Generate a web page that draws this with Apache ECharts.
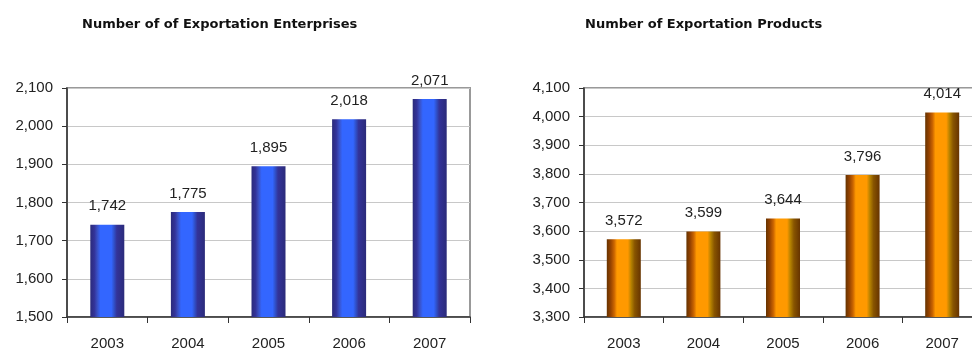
<!DOCTYPE html>
<html><head><meta charset="utf-8">
<script src="https://cdn.jsdelivr.net/npm/echarts@6/dist/echarts.min.js"></script>
<style>html,body{margin:0;padding:0;background:#fff}#c{width:972px;height:350px}</style>
</head><body><div id="c"></div>
<script>
const categories = ['2003','2004','2005','2006','2007'];
const enterprises = [1742, 1775, 1895, 2018, 2071];
const products = [3572, 3599, 3644, 3796, 4014];
const titleLeft = 'Number of of Exportation Enterprises';
const titleRight = 'Number of Exportation Products';

const chart = echarts.init(document.getElementById('c'));
const fmt = v => v.toLocaleString('en-US');
const blueGrad = new echarts.graphic.LinearGradient(0,0,1,0,[
  {offset:0,color:'#2b2b7a'},{offset:0.12,color:'#333399'},{offset:0.2,color:'#3a4fc0'},
  {offset:0.3,color:'#3366ff'},{offset:0.62,color:'#3366ff'},{offset:0.7,color:'#3050c8'},
  {offset:0.78,color:'#333399'},{offset:1,color:'#2b2b7a'}]);
const orangeGrad = new echarts.graphic.LinearGradient(0,0,1,0,[
  {offset:0,color:'#663300'},{offset:0.12,color:'#994400'},{offset:0.22,color:'#cc6600'},
  {offset:0.3,color:'#ff9900'},{offset:0.62,color:'#ff9900'},{offset:0.72,color:'#b38000'},
  {offset:0.82,color:'#885500'},{offset:1,color:'#663300'}]);
const FONT = "'Liberation Sans', Arial, sans-serif";
const axisFont = {fontFamily:FONT, fontSize:15, color:'#222'};
function yAx(grid, min, max){
  return {type:'value', gridIndex:grid, min:min, max:max, interval:100,
    axisLine:{show:true,lineStyle:{color:'#333',width:1.5}},
    axisTick:{show:true,length:5,lineStyle:{color:'#333'}},
    axisLabel:Object.assign({formatter:v=>fmt(v), margin:14}, axisFont),
    splitLine:{show:true,lineStyle:{color:'#c8c8c8',width:1}}};
}
function xAx(grid){
  return {type:'category', gridIndex:grid, data:categories,
    axisLine:{show:true,lineStyle:{color:'#333',width:1.5}},
    axisTick:{show:true,length:6,alignWithLabel:false,lineStyle:{color:'#333'}},
    axisLabel:Object.assign({margin:19}, axisFont)};
}
function bar(idx, data, color){
  return {type:'bar', xAxisIndex:idx, yAxisIndex:idx, data:data, barWidth:34,
    itemStyle:{color:color},
    label:{show:true, position:'top', distance:11, formatter:p=>fmt(p.value),
      fontFamily:FONT, fontSize:15, color:'#222'}};
}
const titleStyle = {fontFamily:"'DejaVu Sans', Verdana, sans-serif", fontWeight:'bold', fontSize:13, color:'#111'};
chart.setOption({
  animation:false,
  title:[
    {text:titleLeft, left:77, top:13, textStyle:titleStyle},
    {text:titleRight, left:580, top:13, textStyle:titleStyle}
  ],
  grid:[
    {left:67, top:88, width:403, height:229, outerBoundsMode:'none', containLabel:false, show:true, borderColor:'#999', borderWidth:2, backgroundColor:'transparent'},
    {left:584, top:88, width:398, height:229, outerBoundsMode:'none', containLabel:false, show:true, borderColor:'#999', borderWidth:2, backgroundColor:'transparent'}
  ],
  xAxis:[xAx(0), xAx(1)],
  yAxis:[yAx(0,1500,2100), yAx(1,3300,4100)],
  series:[bar(0, enterprises, blueGrad), bar(1, products, orangeGrad)]
});
</script></body></html>
